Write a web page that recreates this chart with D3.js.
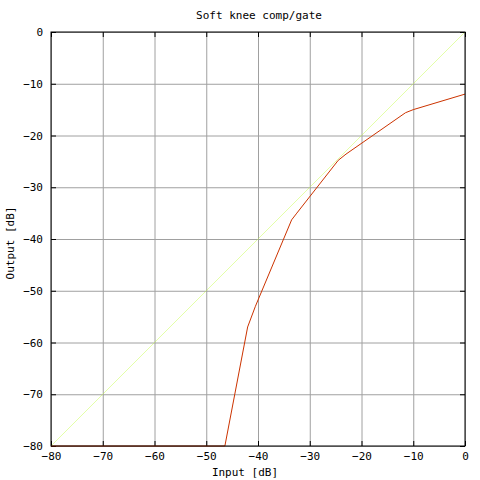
<!DOCTYPE html>
<html>
<head>
<meta charset="utf-8">
<script src="https://cdn.jsdelivr.net/npm/d3@7"></script>
<style>
  body { margin: 0; background: #fff; }
  text { font-family: "DejaVu Sans Mono", monospace; font-size: 11px; fill: #000; }
</style>
</head>
<body>
<div id="viz"></div>
<script>
// transfer curve (input dB, output dB)
var inputDb  = [-80, -46.4, -42, -40.5, -33.5, -32.5, -24.5, -23, -11.5, -10, 0];
var outputDb = [-80, -80, -57, -53, -36.3, -35, -24.8, -23.6, -15.6, -15, -12];
var xTicks = [-80, -70, -60, -50, -40, -30, -20, -10, 0];
var yTicks = [0, -10, -20, -30, -40, -50, -60, -70, -80];

var w = 480, h = 480;
var m = {left: 51, right: 15, top: 32, bottom: 34};

var svg = d3.select('#viz')
            .append('svg')
            .attr('width', w)
            .attr('height', h);

var x = d3.scaleLinear().domain([-80, 0]).range([m.left, w - m.right]);
var y = d3.scaleLinear().domain([-80, 0]).range([h - m.bottom, m.top]);

// grid
svg.append('g')
   .attr('class', 'grid')
   .attr('transform', 'translate(0,' + (h - m.bottom) + ')')
   .call(d3.axisBottom(x).tickValues(xTicks).tickSize(-(h - m.top - m.bottom)).tickFormat(''))
   .call(g => g.select('.domain').remove());

svg.append('g')
   .attr('class', 'grid')
   .attr('transform', 'translate(' + m.left + ',0)')
   .call(d3.axisLeft(y).tickValues(yTicks).tickSize(-(w - m.left - m.right)).tickFormat(''))
   .call(g => g.select('.domain').remove());

svg.selectAll('.grid line').attr('stroke', '#a0a0a0');

// inward black ticks on all four sides
var tl = 5;
svg.append('g')
   .attr('transform', 'translate(0,' + (h - m.bottom) + ')')
   .call(d3.axisBottom(x).tickValues(xTicks).tickSize(-tl).tickPadding(6).tickFormat(d3.format('d')))
   .call(g => g.select('.domain').remove())
   .call(g => g.selectAll('text').attr('font-size', null).attr('font-family', null));

svg.append('g')
   .attr('transform', 'translate(0,' + m.top + ')')
   .call(d3.axisTop(x).tickValues(xTicks).tickSize(-tl).tickFormat(''))
   .call(g => g.select('.domain').remove());

svg.append('g')
   .attr('transform', 'translate(' + m.left + ',0)')
   .call(d3.axisLeft(y).tickValues(yTicks).tickSize(-tl).tickPadding(8).tickFormat(d3.format('d')))
   .call(g => g.select('.domain').remove())
   .call(g => g.selectAll('text').attr('font-size', null).attr('font-family', null));

svg.append('g')
   .attr('transform', 'translate(' + (w - m.right) + ',0)')
   .call(d3.axisRight(y).tickValues(yTicks).tickSize(-tl).tickFormat(''))
   .call(g => g.select('.domain').remove());

// unity reference line (faint)
svg.append('line')
   .attr('x1', x(-80)).attr('y1', y(-80))
   .attr('x2', x(0)).attr('y2', y(0))
   .attr('stroke', '#c0ff3e')
   .attr('stroke-opacity', 0.45)
   .attr('stroke-width', 1);

// curve
var pts = inputDb.map((v, i) => [v, outputDb[i]]);
svg.append('path')
   .datum(pts)
   .attr('fill', 'none')
   .attr('stroke', '#cc3300')
   .attr('stroke-width', 1)
   .attr('d', d3.line().x(d => x(d[0])).y(d => y(d[1])));

// border
svg.append('rect')
   .attr('x', m.left).attr('y', m.top)
   .attr('width', w - m.left - m.right)
   .attr('height', h - m.top - m.bottom)
   .attr('fill', 'none')
   .attr('stroke', '#000');

// labels
svg.append('text')
   .attr('x', 259).attr('y', 19)
   .attr('text-anchor', 'middle')
   .text('Soft knee comp/gate');

svg.append('text')
   .attr('x', 245).attr('y', 476)
   .attr('text-anchor', 'middle')
   .text('Input [dB]');

svg.append('text')
   .attr('transform', 'translate(14,243) rotate(-90)')
   .attr('text-anchor', 'middle')
   .text('Output [dB]');
</script>
</body>
</html>
